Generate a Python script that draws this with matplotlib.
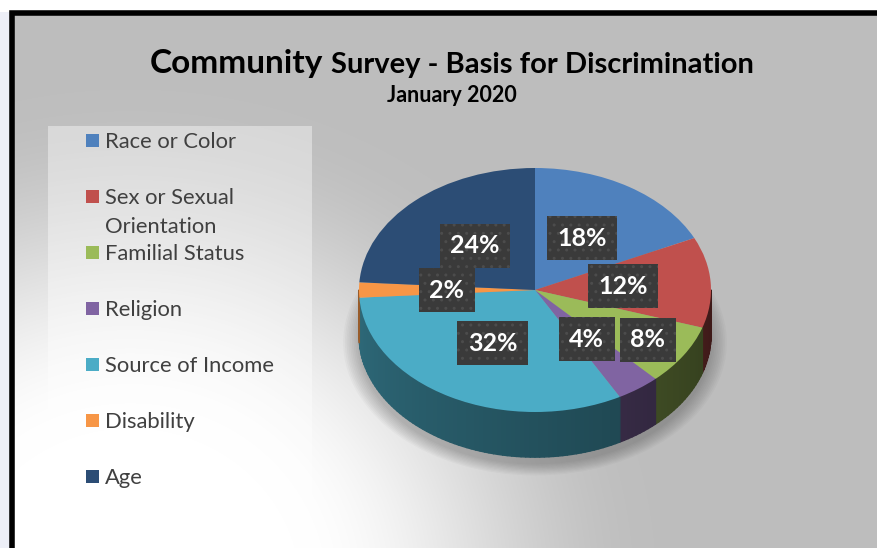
import numpy as np
import matplotlib
matplotlib.use("Agg")
import matplotlib.pyplot as plt
from matplotlib.patches import Rectangle, Ellipse
from matplotlib.collections import PolyCollection
from matplotlib.colors import to_rgb

# survey results
categories = ["Race or Color", "Sex or Sexual Orientation", "Familial Status", "Religion",
              "Source of Income", "Disability", "Age"]
legend_labels = ["Race or Color", "Sex or Sexual\nOrientation", "Familial Status", "Religion",
                 "Source of Income", "Disability", "Age"]
shares = [18, 12, 8, 4, 32, 2, 24]
colors = ["#4F81BD", "#C0504D", "#9BBB59", "#8064A2", "#4BACC6", "#F79646", "#2C4D75"]

# label distance from the centre, as a fraction of the radius
label_r = [0.5, 0.5, 0.76, 0.5, 0.5, 0.5, 0.5]

W, H = 878, 548
fig = plt.figure(figsize=(W / 100, H / 100), dpi=100)
fig.patch.set_facecolor("white")

# full-figure canvas in pixel units for background, frame, titles and legend
bg = fig.add_axes([0, 0, 1, 1])
bg.set_xlim(0, W)
bg.set_ylim(H, 0)
bg.axis("off")

# grey fill with a white glow coming from the lower left
yy, xx = np.mgrid[0:H, 0:W]
d = np.hypot(xx - 130, (yy - 590) * 1.05)
t = np.clip((d - 170) / 360, 0, 1)
t = t * t * (3 - 2 * t)
g = 1.0 - (1.0 - 0.745) * t
img = np.dstack([g, g, g])
img[:, :12] = [0.93, 0.94, 0.97]
img[:12, :] = [1, 1, 1]
bg.imshow(img, extent=(0, W, H, 0), aspect="auto", zorder=0)

# black frame (open on the right and bottom)
bg.plot([12.5, 12.5, W + 5], [H + 5, 12.5, 12.5], color="black", lw=4, zorder=5,
        solid_joinstyle="miter")

# legend panel
bg.add_patch(Rectangle((48, 126), 264, 392, facecolor="white", alpha=0.4,
                       edgecolor="none", zorder=1))
for i, (lab, col) in enumerate(zip(legend_labels, colors)):
    yc = 140 + 56 * i
    bg.add_patch(Rectangle((86.5, yc - 6.5), 13, 13, facecolor=col, edgecolor="none", zorder=2))
    bg.text(105, yc - 8, lab, fontsize=15.8, family="Lato", color="#404040",
            va="top", ha="left", linespacing=1.55, zorder=2)

# titles
bg.text(323, 73, "Community", fontsize=24, family="Lato", fontweight="bold",
        ha="right", va="baseline", color="black")
bg.text(331, 73, "Survey - Basis for Discrimination", fontsize=21, family="Lato",
        fontweight="bold", ha="left", va="baseline", color="black")
bg.text(452, 96, "January 2020", fontsize=15.5, family="Lato", fontweight="bold",
        ha="center", va="center", color="black")

# pie axes: one unit = 176 px across, 122 px down
cx, cy, ax_px, ay_px = 535, 290, 176, 122
xl, xr, yb, yt = -1.25, 1.25, -1.6, 1.3
ax = fig.add_axes([(cx + xl * ax_px) / W, (H - (cy - yb * ay_px)) / H,
                   (xr - xl) * ax_px / W, (yt - yb) * ay_px / H])
ax.axis("off")
ax.patch.set_alpha(0)

depth = 0.37

# soft shadow, mostly below the disc
for k in range(10):
    s = 1.0 + 0.01 * k
    ax.add_patch(Ellipse((0.0, -depth - 0.06), 2.0 * s, 2.0 * s,
                         facecolor="black", alpha=0.022, edgecolor="none", zorder=0))

# side wall for the front half of each wedge
fracs = np.array(shares, dtype=float) / sum(shares)
bounds = 90 - 360 * np.concatenate([[0], np.cumsum(fracs)])
polys, pcols = [], []
for i in range(len(shares)):
    lo, hi = bounds[i + 1], bounds[i]
    a0, a1 = max(lo, -180), min(hi, 0)
    if a1 <= a0:
        continue
    n = max(int((a1 - a0) / 1.5), 1)
    edges = np.linspace(a0, a1, n + 1)
    base = np.array(to_rgb(colors[i]))
    for e0, e1 in zip(edges[:-1], edges[1:]):
        r0, r1 = np.radians(e0), np.radians(e1)
        polys.append([(np.cos(r0), np.sin(r0)), (np.cos(r1), np.sin(r1)),
                      (np.cos(r1), np.sin(r1) - depth), (np.cos(r0), np.sin(r0) - depth)])
        mid = (e0 + e1) / 2
        shade = 0.62 - 0.30 * (mid + 180) / 180
        pcols.append(tuple(base * shade))
ax.add_collection(PolyCollection(polys, facecolors=pcols, edgecolors=pcols,
                                 linewidths=1.0, zorder=1))

# top face
ax.pie(shares, colors=colors, startangle=90, counterclock=False, radius=1,
       wedgeprops=dict(edgecolor="none", zorder=2), frame=False)
ax.set_xlim(xl, xr)
ax.set_ylim(yb, yt)
ax.set_aspect("auto")

# value labels
mids = (bounds[:-1] + bounds[1:]) / 2
for v, m, r in zip(shares, mids, label_r):
    x, y = r * np.cos(np.radians(m)), r * np.sin(np.radians(m))
    ax.text(x, y, f"{v}%", fontsize=18, family="Lato", fontweight="bold",
            color="white", ha="center", va="center", zorder=4,
            bbox=dict(boxstyle="square,pad=0.42", facecolor="#3A3A3A",
                      edgecolor="#4C4C4C", hatch="..", linewidth=0))

fig.savefig("out.png", dpi=100)
